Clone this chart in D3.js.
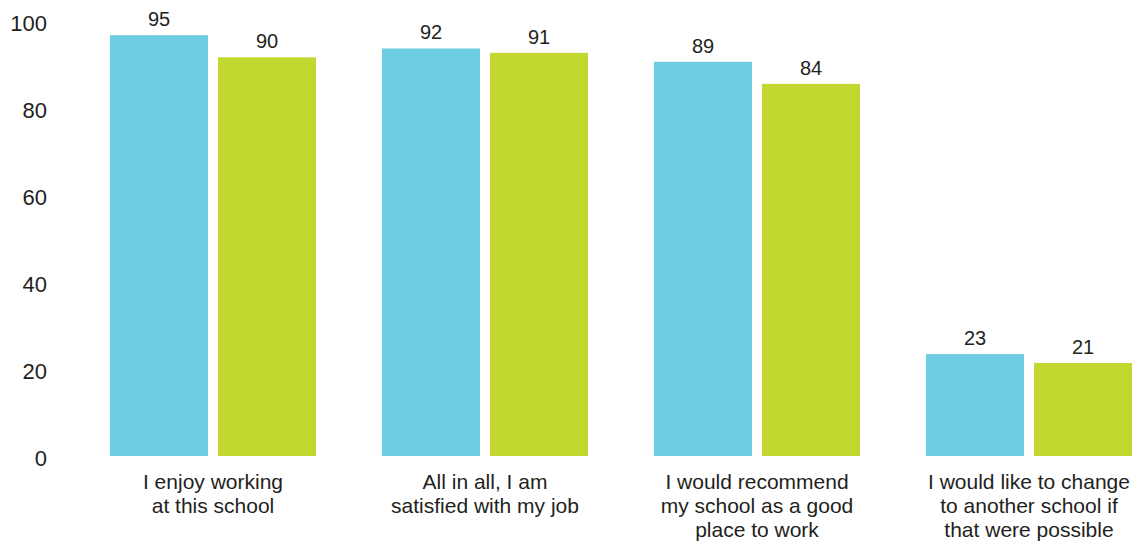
<!DOCTYPE html>
<html>
<head>
<meta charset="utf-8">
<script src="https://cdn.jsdelivr.net/npm/d3@7"></script>
<style>
  html, body { margin: 0; padding: 0; background: #fff; }
  svg text { font-family: "Liberation Sans", Arial, Helvetica, sans-serif; fill: #231f20; }
</style>
</head>
<body>
<svg id="chart" width="1138" height="546"></svg>
<script>
// Survey items (each label split into its display lines)
const categories = [
  ["I enjoy working", "at this school"],
  ["All in all, I am", "satisfied with my job"],
  ["I would recommend", "my school as a good", "place to work"],
  ["I would like to change", "to another school if", "that were possible"]
];
const seriesNames = ["A", "B"];
const seriesA = [95, 92, 89, 23];
const seriesB = [90, 91, 84, 21];
const tickValues = [0, 20, 40, 60, 80, 100];
const colors = ["#6dcde2", "#c3d731"];

const svg = d3.select("#chart");
const keys = categories.map(c => c.join(" "));

// Group and bar positions
const x0 = d3.scaleBand().domain(keys).range([110, 1132])
  .paddingInner(66 / 272).paddingOuter(0);
const x1 = d3.scaleBand().domain(seriesNames).range([0, x0.bandwidth()])
  .paddingInner(10 / 108).paddingOuter(0);

// Bar heights
const y = d3.scaleLinear().domain([0, 100]).range([456, 13]);
// Value axis labels
const yAxis = d3.scaleLinear().domain([0, 100]).range([458.5, 23]);

// Y tick labels (no axis line)
svg.append("g").selectAll("text").data(tickValues).join("text")
  .attr("x", 47)
  .attr("y", d => yAxis(d))
  .attr("dy", "0.36em")
  .attr("text-anchor", "end")
  .style("font-size", "22px")
  .text(d => d);

const rows = keys.map((k, i) => ({ key: k, lines: categories[i], values: [seriesA[i], seriesB[i]] }));

const groups = svg.append("g").selectAll("g").data(rows).join("g")
  .attr("transform", d => `translate(${x0(d.key)},0)`);

const bars = groups.selectAll("g.bar")
  .data(d => d.values.map((v, j) => ({ name: seriesNames[j], value: v, color: colors[j] })))
  .join("g").attr("class", "bar");

bars.append("rect")
  .attr("x", d => x1(d.name))
  .attr("y", d => y(d.value))
  .attr("width", x1.bandwidth())
  .attr("height", d => y(0) - y(d.value))
  .attr("fill", d => d.color);

bars.append("text")
  .attr("x", d => x1(d.name) + x1.bandwidth() / 2)
  .attr("y", d => y(d.value) - 9)
  .attr("text-anchor", "middle")
  .style("font-size", "20px")
  .text(d => d.value);

// Category labels under each group
groups.append("text")
  .attr("text-anchor", "middle")
  .style("font-size", "21px")
  .selectAll("tspan").data(d => d.lines).join("tspan")
  .attr("x", x0.bandwidth() / 2)
  .attr("y", (d, i) => 489 + i * 24)
  .text(d => d);
</script>
</body>
</html>
